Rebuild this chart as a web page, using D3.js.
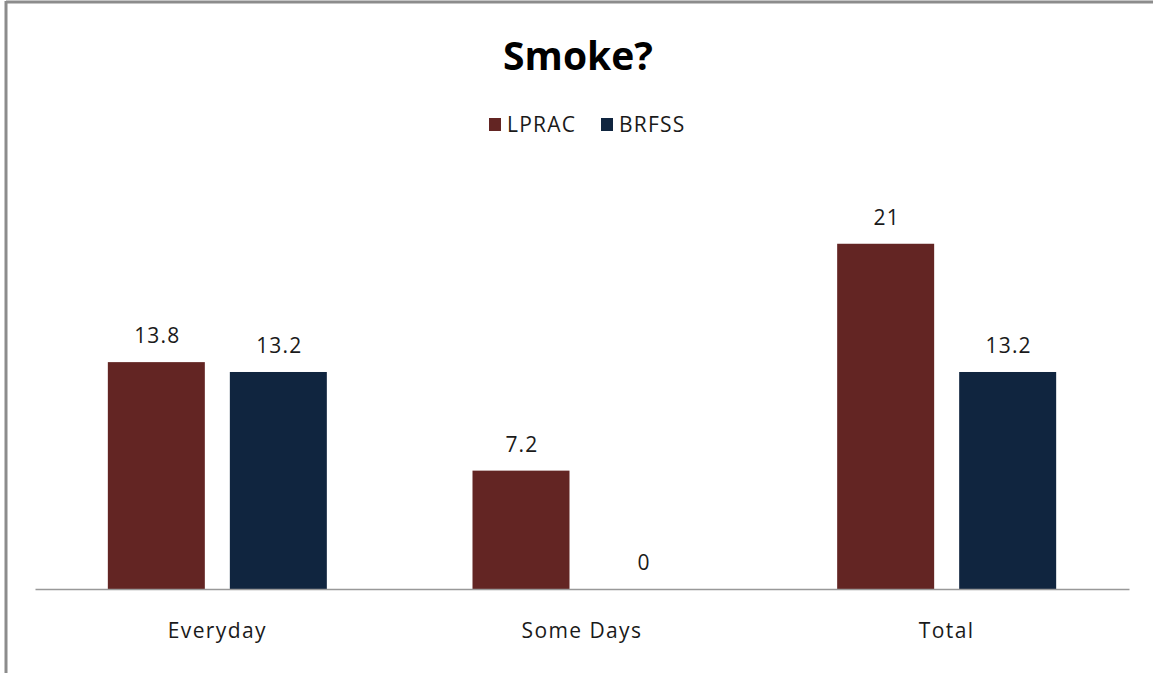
<!DOCTYPE html>
<html>
<head>
<meta charset="utf-8">
<script src="https://cdnjs.cloudflare.com/ajax/libs/d3/7.8.5/d3.min.js"></script>
<style>
  body { margin: 0; background: #fff; }
  svg { display: block; font-family: "Open Sans", "Noto Sans", sans-serif; }
</style>
</head>
<body>
<svg id="chart" width="1153" height="673"></svg>
<script>
// chart data
var categories = ["Everyday", "Some Days", "Total"];
var seriesNames = ["LPRAC", "BRFSS"];
var lpracValues = [13.8, 7.2, 21];
var brfssValues = [13.2, 0, 13.2];
var colors = ["#632523", "#10253F"];

var svg = d3.select("#chart");
var W = 1153, H = 673;
var textColor = "#1a1a1a";

// outer frame (only top and left edges are visible in the picture)
svg.append("line").attr("x1", 6).attr("x2", W).attr("y1", 2).attr("y2", 2)
    .attr("stroke", "#8c8c8c").attr("stroke-width", 3);
svg.append("line").attr("x1", 6).attr("x2", 6).attr("y1", 1).attr("y2", H)
    .attr("stroke", "#8c8c8c").attr("stroke-width", 3);

var plot = {left: 35, right: 1129, top: 178, bottom: 589};

var x0 = d3.scaleBand().domain(categories).range([plot.left, plot.right]);
// two bars of ~97px with a 25px gap, centred in each category band
var groupW = 219, outer = (x0.bandwidth() - groupW) / 2;
var x1 = d3.scaleBand().domain(seriesNames).range([outer, outer + groupW]).paddingInner(0.205);
var y = d3.scaleLinear().domain([0, 25]).range([plot.bottom, plot.top]);

var rows = categories.map(function(c, i) {
    return {cat: c, values: [
        {name: seriesNames[0], value: lpracValues[i], color: colors[0]},
        {name: seriesNames[1], value: brfssValues[i], color: colors[1]}
    ]};
});

var groups = svg.append("g").selectAll("g")
    .data(rows)
    .enter().append("g")
    .attr("transform", function(d) { return "translate(" + x0(d.cat) + ",0)"; });

groups.selectAll("rect")
    .data(function(d) { return d.values; })
    .enter().append("rect")
    .attr("x", function(d) { return x1(d.name); })
    .attr("width", x1.bandwidth())
    .attr("y", function(d) { return y(d.value); })
    .attr("height", function(d) { return y(0) - y(d.value); })
    .attr("fill", function(d) { return d.color; });

groups.selectAll("text")
    .data(function(d) { return d.values; })
    .enter().append("text")
    .attr("x", function(d) { return x1(d.name) + x1.bandwidth() / 2 + 1; })
    .attr("y", function(d) { return y(d.value) - 19; })
    .attr("text-anchor", "middle")
    .attr("font-size", 21)
    .attr("letter-spacing", 1.2)
    .attr("fill", textColor)
    .text(function(d) { return d.value; });

// category axis
var xAxis = d3.axisBottom(x0).tickSize(0).tickPadding(34);
var gx = svg.append("g").attr("transform", "translate(0," + plot.bottom + ")").call(xAxis);
gx.select(".domain").attr("stroke", "#999").attr("stroke-width", 1.5);
gx.selectAll("text").attr("font-family", "Open Sans, Noto Sans, sans-serif")
    .attr("font-size", 21).attr("letter-spacing", 1.4).attr("fill", textColor);

// title
svg.append("text").attr("x", 578).attr("y", 70).attr("text-anchor", "middle")
    .attr("font-size", 39).attr("font-weight", "bold").attr("fill", "#000")
    .text("Smoke?");

// legend
var legendX = [489, 601];
seriesNames.forEach(function(name, i) {
    var lg = svg.append("g").attr("transform", "translate(" + legendX[i] + ",118)");
    lg.append("rect").attr("x", 0).attr("y", 0).attr("width", 12).attr("height", 13).attr("fill", colors[i]);
    lg.append("text").attr("x", 18).attr("y", 14).attr("font-size", 21)
        .attr("letter-spacing", 1.2).attr("fill", textColor).text(name);
});
</script>
</body>
</html>
